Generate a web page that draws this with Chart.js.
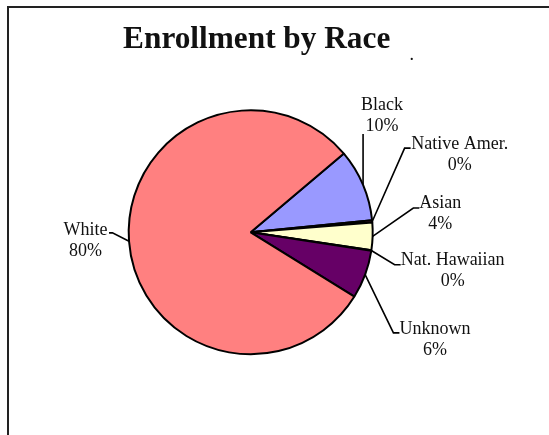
<!DOCTYPE html>
<html>
<head>
<meta charset="utf-8">
<title>Enrollment by Race</title>
<script src="https://cdn.jsdelivr.net/npm/chart.js@4.4.1/dist/chart.umd.min.js"></script>
<style>
  html, body { margin: 0; padding: 0; background: #fff; }
  #wrap { position: relative; width: 549px; height: 435px; overflow: hidden; }
  /* sheet frame: only the top and left edges are visible in the crop */
  #frame { position: absolute; left: 7px; top: 6px; right: -10px; bottom: -10px;
           border-top: 2px solid #222; border-left: 2px solid #222; }
  #chart { position: absolute; left: 0; top: 0; }
</style>
</head>
<body>
<div id="wrap">
  <div id="frame"></div>
  <canvas id="chart" width="549" height="435"></canvas>
</div>
<script>
  /* ===== Data ===== */
  const categories = ['Black', 'Native Amer.', 'Asian', 'Nat. Hawaiian', 'Unknown', 'White'];
  const shares = [9.6, 0.3, 3.6, 0.1, 6.4, 80.0];
  const sliceColors = ['#9999FF', '#993366', '#FFFFCC', '#CCFFFF', '#660066', '#FF8080'];

  /* ===== Label placement =====
     leader goes from the middle of the slice edge to an elbow, then a short tick;
     text is set relative to the elbow (block centre x, first baseline) */
  const elbowOffsets = [[0, -50.7], [32.4, -73.3], [40.7, -28.4], [23.3, 14.3], [28.3, 58.3], [-16.6, -8.4]];
  const tickLengths = [0, 6, 6, 6, 6, -3.4];
  const textOffsets = [[19, -24.3], [55.2, 1], [27, 0], [58, 0.5], [41.5, 1.5], [-27, 1.7]];

  const serif = '"Liberation Serif", "Times New Roman", serif';

  const sliceLabels = {
    id: 'sliceLabels',
    afterDatasetsDraw(chart) {
      const ctx = chart.ctx;
      const meta = chart.getDatasetMeta(0);
      const total = shares.reduce((a, b) => a + b, 0);
      ctx.save();
      ctx.strokeStyle = '#000';
      ctx.lineWidth = 1.6;
      ctx.fillStyle = '#111';
      ctx.font = '18px ' + serif;
      ctx.textAlign = 'center';
      ctx.textBaseline = 'alphabetic';
      meta.data.forEach((arc, i) => {
        const p = arc.getProps(['x', 'y', 'startAngle', 'endAngle', 'outerRadius'], true);
        const mid = (p.startAngle + p.endAngle) / 2;
        const ex = p.x + Math.cos(mid) * p.outerRadius;
        const ey = p.y + Math.sin(mid) * p.outerRadius;
        const bx = ex + elbowOffsets[i][0];
        const by = ey + elbowOffsets[i][1];
        ctx.beginPath();
        ctx.moveTo(ex, ey);
        ctx.lineTo(bx, by);
        if (tickLengths[i]) ctx.lineTo(bx + tickLengths[i], by);
        ctx.stroke();
        const tx = bx + textOffsets[i][0];
        const ty = by + textOffsets[i][1];
        ctx.fillText(categories[i], tx, ty);
        ctx.fillText(Math.round(shares[i] / total * 100) + '%', tx, ty + 21);
      });
      ctx.restore();
    }
  };

  // title sits a little right of the pie centre, as in the source sheet
  const sheetTitle = {
    id: 'sheetTitle',
    afterDraw(chart) {
      const ctx = chart.ctx;
      ctx.save();
      ctx.fillStyle = '#111';
      ctx.textAlign = 'center';
      ctx.textBaseline = 'alphabetic';
      ctx.font = 'bold 31.3px ' + serif;
      ctx.fillText('Enrollment by Race', chart.width / 2 - 17.8, 48.3);
      ctx.font = '18px ' + serif;
      ctx.fillText('.', 411.7, 60);
      ctx.restore();
    }
  };

  new Chart(document.getElementById('chart'), {
    type: 'pie',
    data: {
      labels: categories,
      datasets: [{
        data: shares,
        backgroundColor: sliceColors,
        borderColor: '#000',
        borderWidth: 2
      }]
    },
    options: {
      responsive: false,
      animation: false,
      rotation: 49.8,
      radius: 122,
      layout: { padding: { left: 10, right: 57.6, top: 60, bottom: 30.4 } },
      plugins: {
        legend: { display: false },
        tooltip: { enabled: false }
      }
    },
    plugins: [sliceLabels, sheetTitle]
  });
</script>
</body>
</html>
